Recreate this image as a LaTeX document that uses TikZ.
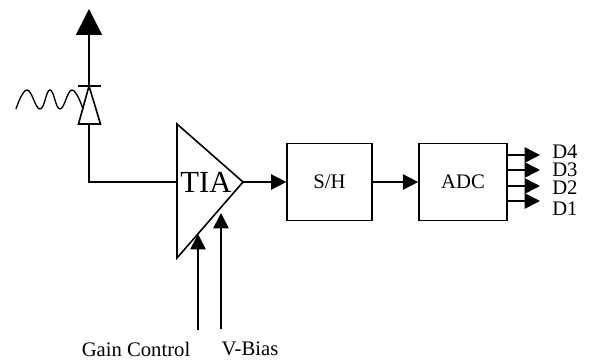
\documentclass[tikz,border=0pt]{standalone}
\usepackage{fontspec}
\setmainfont{Liberation Serif}
\usetikzlibrary{calc,positioning,arrows.meta}
\newcommand{\sigarrowstyle}{-{Triangle[length=11.5pt,width=11.5pt]}}
\newcommand{\bigarrowstyle}{-{Triangle[length=19.5pt,width=19.5pt]}}

\begin{document}
\begin{tikzpicture}[
    x=0.75pt, y=-0.75pt,
    font=\fontsize{15.5}{18}\selectfont,
    sig/.style={\sigarrowstyle, line width=1.2pt},
    sigline/.style={line width=1.2pt, line join=miter},
    blockbox/.style={draw, line width=1.2pt, minimum height=57.75pt, inner sep=0pt},
    lbl/.style={inner sep=0pt}
]
  \useasboundingbox (0,0) rectangle (590,360);

  % photodiode
  \coordinate (pd-tip) at (89,86);
  \coordinate (pd-base) at (89,124);
  \coordinate (pd-out) at (89,9);
  \coordinate (pd-corner) at (89,182);
  \draw[sigline] (78.5,124) -- (pd-tip) -- (100.5,124) -- cycle;
  \draw[sigline] (78,86) -- (101,86);
  \draw[sig,\bigarrowstyle] (pd-tip) -- (pd-out);
  \draw[line width=1pt] plot[smooth,tension=0.75] coordinates
    {(16,109) (27,90) (40,109) (50,90) (60,109) (72,90) (83,109)};

  % amplifier
  \coordinate (tia-top) at (177,124);
  \coordinate (tia-bot) at (177,258);
  \coordinate (tia-out) at (243,182);
  \coordinate (tia-in) at (177,182);
  \draw[sigline] (tia-top) -- (tia-out) -- (tia-bot) -- cycle;
  \node[lbl,font=\fontsize{23}{25}\selectfont] (tia) at (206,182) {TIA};
  \draw[sigline] (pd-base) -- (pd-corner) -- (tia-in);

  % blocks
  \node[blockbox,minimum width=63.5pt] (sh) at (329.5,182) {S/H};
  \node[blockbox,minimum width=66pt] (adc) at (463,182) {ADC};
  \draw[sig] (tia-out) -- (sh.west);
  \draw[sig] (sh.east) -- (adc.west);

  % digital outputs
  \foreach \n/\y/\ly in {4/155/152,3/170/170,2/186/188,1/201/209} {
    \coordinate (adc-out-\n) at (540,\y);
    \coordinate (adc-port-\n) at (adc.east |- adc-out-\n);
    \node[lbl,anchor=west] (d-\n) at (552,\ly) {D\n};
    \draw[sig] (adc-port-\n) -- (adc-out-\n);
  }

  % control inputs
  \node[lbl] (gain) at (136,349) {Gain Control};
  \node[lbl] (vbias) at (250,349) {V-Bias};
  \coordinate (gain-start) at (198,330);
  \coordinate (gain-end) at (198,234);
  \coordinate (vbias-start) at (221,329);
  \coordinate (vbias-end) at (221,213);
  \draw[sig] (gain-start) -- (gain-end);
  \draw[sig] (vbias-start) -- (vbias-end);
\end{tikzpicture}
\end{document}
